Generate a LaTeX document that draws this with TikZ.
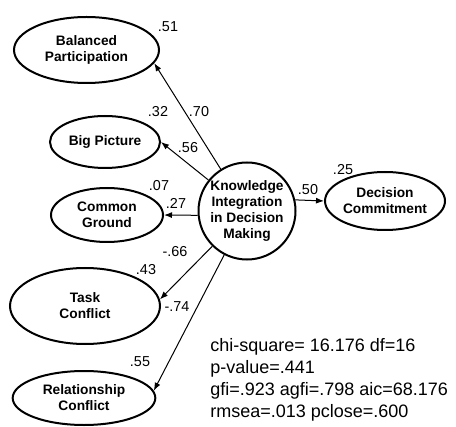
\documentclass[tikz,border=0pt]{standalone}
\usepackage{fontspec}
\setmainfont{Liberation Sans}
\usetikzlibrary{arrows.meta,shapes.geometric}

\begin{document}
\begin{tikzpicture}[x=0.75pt, y=-0.75pt,
      latent/.style={ellipse, draw, line width=1.5pt, inner sep=0pt, align=center, font=\bfseries\fontsize{10.3}{12}\selectfont},
      factor/.style={circle, draw, line width=1.5pt, inner sep=0pt, minimum size=72.75pt, align=center, font=\bfseries\fontsize{10.3}{12}\selectfont},
      coef/.style={inner sep=0pt, font=\fontsize{10.8}{12}\selectfont},
      load/.style={-{Latex[length=6pt,width=4.5pt]}, line width=0.75pt}
    ]
      \useasboundingbox (0,0) rectangle (456,427);

      % latent variables
      \node[latent, minimum width=108.75pt, minimum height=49.5pt] (bp) at (86.5,50) {Balanced\\Participation};
      \node[latent, minimum width=82.5pt, minimum height=39pt] (big) at (105,142) {Big Picture};
      \node[latent, minimum width=84pt, minimum height=40.5pt] (cg) at (107,215) {Common\\Ground};
      \node[latent, minimum width=112.5pt, minimum height=57pt] (tc) at (85,306) {Task\\Conflict};
      \node[latent, minimum width=107pt, minimum height=40.5pt] (rc) at (84,398) {Relationship\\Conflict};
      \node[factor] (kidm) at (247,211) {Knowledge\\Integration\\in Decision\\Making};
      \node[latent, minimum width=90pt, minimum height=43.5pt] (dc) at (385,201) {Decision\\Commitment};

      % paths
      \draw[load] (kidm) -- (bp.-11);
      \draw[load] (kidm) -- (big.east);
      \draw[load] (kidm.185) -- (cg.east);
      \draw[load] (kidm) -- (tc.5);
      \draw[load] (kidm) -- (rc.6);
      \draw[load] (kidm.13) -- (dc.west);

      % squared multiple correlations
      \node[coef] (r51) at (168,27) {.51};
      \node[coef] (r32) at (158,112) {.32};
      \node[coef] (r07) at (159,186) {.07};
      \node[coef] (r43) at (146,270) {.43};
      \node[coef] (r55) at (140,362) {.55};
      \node[coef] (r25) at (343,170) {.25};

      % loadings
      \node[coef] (w70) at (199,112) {.70};
      \node[coef] (w56) at (188,148) {.56};
      \node[coef] (w27) at (176,203) {.27};
      \node[coef] (w66) at (175,252) {-.66};
      \node[coef] (w74) at (177,307) {-.74};
      \node[coef] (w50) at (308,190) {.50};

      \node[anchor=west, align=left, inner sep=0pt, font=\fontsize{13.5}{16.5}\selectfont] (stats) at (210,380)
        {chi-square= 16.176 df=16\\p-value=.441\\gfi=.923 agfi=.798 aic=68.176\\rmsea=.013 pclose=.600};
    \end{tikzpicture}
\end{document}
